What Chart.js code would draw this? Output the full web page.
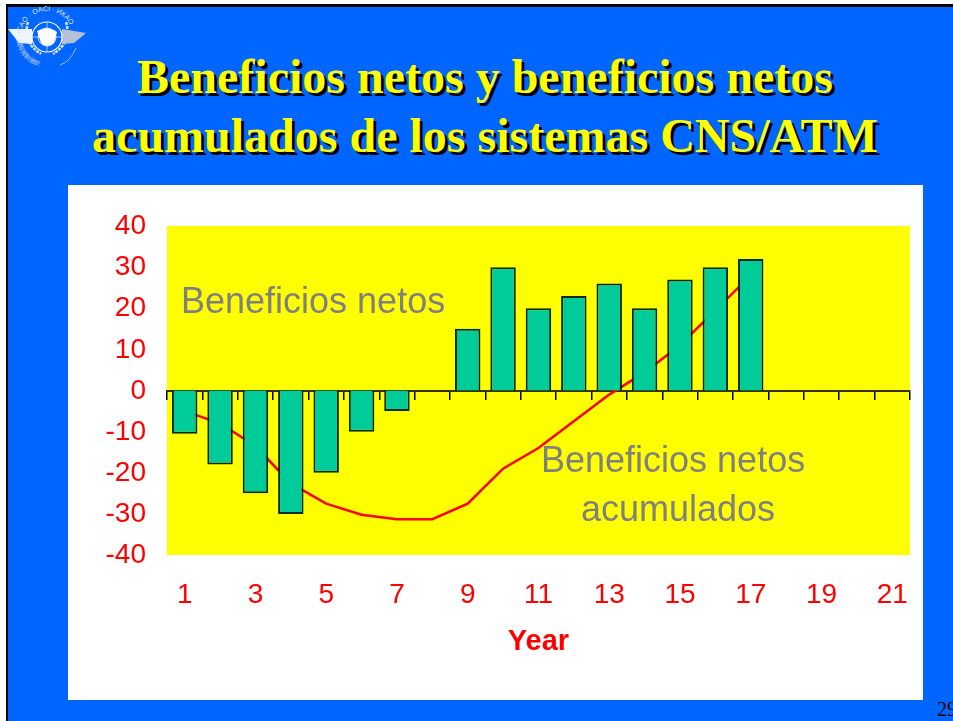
<!DOCTYPE html>
<html>
<head>
<meta charset="utf-8">
<title>Beneficios netos</title>
<script src="https://cdn.jsdelivr.net/npm/chart.js@4"></script>
<style>
html, body { margin: 0; padding: 0; background: #fff; overflow: hidden; }
#slide { position: absolute; left: 6px; top: 4px; width: 960px; height: 730px; background: #0066ff; border-left: 2px solid #000; border-top: 3px solid #000; }
#panel { position: absolute; left: 68px; top: 185px; width: 855px; height: 515px; background: #fff; }
#panel canvas { position: absolute; left: 0; top: 0; }
h1 { position: absolute; left: 35px; top: 47px; width: 900px; margin: 0; text-align: center; color: #ffff00;
     font: bold 48px/59px "Liberation Serif", serif; text-shadow: 3px 3px 0 #000; }
.note { position: absolute; color: #808080; font: 36px "Liberation Sans", sans-serif; white-space: nowrap; }
#page { position: absolute; left: 937px; top: 698px; font: 20px "Liberation Serif", serif; color: #000; }
#logo { position: absolute; left: 0; top: 0; }
</style>
</head>
<body>
<div id="slide"></div>
<svg id="logo" width="100" height="80" viewBox="0 0 100 80">
  <defs>
    <path id="arcTop" d="M21 37 A26 26 0 0 1 73 37"/>
    <path id="arcBottom" d="M17 40 A30 30 0 0 0 60 64"/>
  </defs>
  <g fill="none" stroke="#d8e4ff">
    <path d="M28 22 Q22 42 41 54" stroke-dasharray="3 1" stroke-width="2.5"/>
    <path d="M66 22 Q72 42 53 54" stroke-dasharray="3 1" stroke-width="2.5"/>
    <path d="M60 65 Q70 62 76 48" stroke="#c0cce4" stroke-width="0.8"/>
  </g>
  <path d="M8 29 L32 29 L32 44 L19 43 Z" fill="#f0f4ff"/>
  <path d="M86 33 L62 29 L62 44 L74 43 Z" fill="#b4c0d8"/>
  <circle cx="47" cy="37" r="15" fill="#0066ff" stroke="#ffffff" stroke-width="1.2"/>
  <circle cx="47" cy="37" r="9" fill="none" stroke="#ffffff" stroke-width="0.8"/>
  <line x1="32" y1="37" x2="62" y2="37" stroke="#ffffff" stroke-width="0.6"/>
  <line x1="47" y1="22" x2="47" y2="52" stroke="#ffffff" stroke-width="0.6"/>
  <path d="M37 31 Q47 25 57 32 L54 43 Q47 49 41 43 Z" fill="#ffffff"/>
  <text font-family="Liberation Sans" font-size="7" fill="#dde6ff"><textPath href="#arcTop" startOffset="3">ICAO · OACI · ИКАО</textPath></text>
  <text font-family="Noto Sans CJK SC" font-size="6" fill="#d0dcf4"><textPath href="#arcBottom">国际民航组织</textPath></text>
</svg>
<h1>Beneficios netos y beneficios netos<br>acumulados de los sistemas CNS/ATM</h1>
<div id="panel">
  <canvas id="chart" width="855" height="515"></canvas>
</div>
<div class="note" style="left:181px;top:280px">Beneficios netos</div>
<div class="note" style="left:541px;top:439px">Beneficios netos</div>
<div class="note" style="left:581px;top:488px">acumulados</div>
<div id="page">29</div>

<script>
var years = ["1","2","3","4","5","6","7","8","9","10","11","12","13","14","15","16","17","18","19","20","21"];
var netBenefits = [-10.5,-18,-25,-30,-20,-10,-5,null,15,30,20,23,26,20,27,30,32,null,null,null,null];
var cumulativeBenefits = [-5,-8,-13.5,-22.6,-27.5,-30.2,-31.3,-31.3,-27.5,-19,-14,-7.5,-1,4.4,11,19.5,28,null,null,null,null];
var yTicks = [40,30,20,10,0,-10,-20,-30,-40];

var plotBackground = {
    id: "plotBackground",
    beforeDraw: function (chart) {
        var a = chart.chartArea;
        chart.ctx.fillStyle = "#ffff00";
        chart.ctx.fillRect(a.left, a.top, a.width, a.height);
    }
};

var labelFont = { family: "'Liberation Sans'", size: 28 };

new Chart(document.getElementById("chart"), {
    type: "bar",
    data: {
        labels: years,
        datasets: [
            {
                type: "bar",
                data: netBenefits,
                backgroundColor: "#00cc99",
                borderColor: "#0a2a20",
                borderWidth: 2,
                barPercentage: 0.72,
                categoryPercentage: 1,
                order: 1
            },
            {
                type: "line",
                data: cumulativeBenefits,
                borderColor: "#ff0000",
                borderWidth: 2.5,
                pointRadius: 0,
                tension: 0,
                order: 2
            }
        ]
    },
    options: {
        responsive: false,
        animation: false,
        layout: { padding: { top: 41, right: 9, left: 0, bottom: 0 } },
        plugins: { legend: { display: false }, tooltip: { enabled: false } },
        scales: {
            y: {
                min: -40,
                max: 40,
                afterFit: function (s) { s.width = 99; },
                afterBuildTicks: function (s) { s.ticks = yTicks.map(function (v) { return { value: v }; }); },
                grid: { display: false },
                border: { display: false },
                ticks: { color: "#ff0000", font: labelFont, padding: 13, labelOffset: 0.5 }
            },
            x: {
                position: "bottom",
                afterFit: function (s) { s.height = 145; },
                grid: { display: false },
                border: { display: false },
                title: { display: true, text: "Year", color: "#ff0000", font: { family: "'Liberation Sans'", size: 29, weight: "bold" }, padding: { top: 12, bottom: 41 } },
                ticks: {
                    color: "#ff0000",
                    font: labelFont,
                    padding: 15,
                    autoSkip: false,
                    maxRotation: 0,
                    callback: function (v, i) { return i % 2 == 0 ? years[i] : ""; }
                }
            },
            // axis line at zero, ticks only
            zeroAxis: {
                type: "category",
                axis: "x",
                labels: years,
                position: { y: 0 },
                grid: { offset: true, drawOnChartArea: false, drawTicks: true, tickLength: 8, color: "#000000", lineWidth: 1.5 },
                border: { display: true, color: "#333300", width: 2 },
                ticks: { display: false }
            }
        }
    },
    plugins: [plotBackground]
});
</script>
</body>
</html>
